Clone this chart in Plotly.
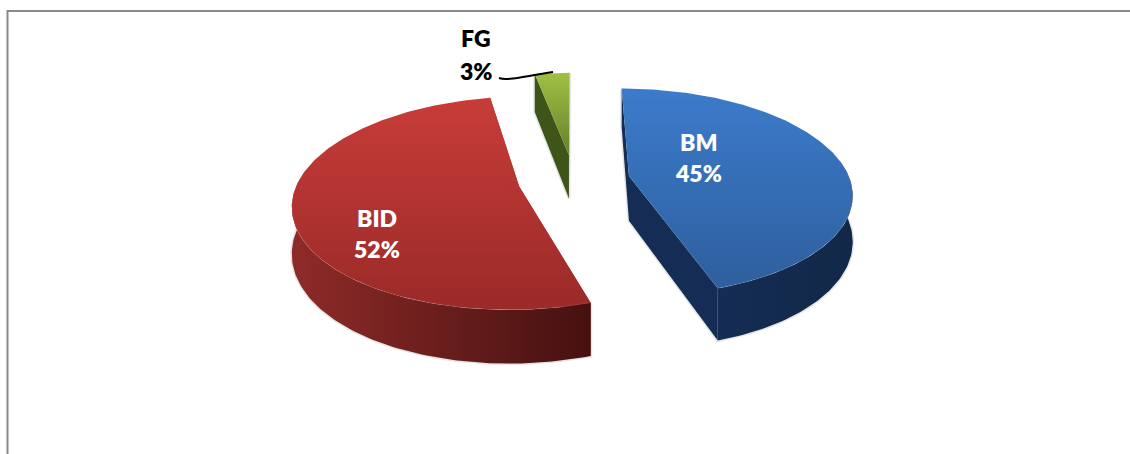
import numpy as np
import plotly.graph_objects as go

# Chart data
CATEGORIES = ["BM", "BID", "FG"]
SHARES = [45, 52, 3]
PERCENT_LABELS = ["45%", "52%", "3%"]

# Colours per slice: top face gradient (upper, lower), side face gradient (left, right)
TOP_COLORS = {"BM": ("#3c7bcb", "#2e5f9e"), "BID": ("#c83c39", "#9a2a28"), "FG": ("#a0c043", "#64802a")}
SIDE_COLORS = {"BM": ("#152d54", "#122848"), "BID": ("#8e2b28", "#451110"), "FG": ("#3f5419", "#374b15")}
LABEL_POS = {"BM": (698, 142, 173), "BID": (377, 218, 249), "FG": (476, 38, 71)}
LABEL_COLORS = {"BM": "white", "BID": "white", "FG": "black"}

# Projection of the tilted disc onto the page
CX, CY = 574, 180
RADIUS = 221
EXPLODE = 56
TILT = 0.462
PERSPECTIVE = 0.154
THICKNESS = 45


def project(theta, r, mid, z=0.0):
    X = EXPLODE * np.sin(mid) + r * np.sin(theta)
    Y = EXPLODE * np.cos(mid) + r * np.cos(theta)
    s = 1 / (1 + PERSPECTIVE * Y / RADIUS)
    return CX + s * X, CY - s * TILT * Y + s * z * THICKNESS


def polygon(xs, ys, c0, c1, kind):
    # Plotly's vertical gradient runs from the lowest y value, which sits at the
    # bottom of the page here, so the stops are given lower colour first.
    stops = [[0, c1], [1, c0]] if kind == "vertical" else [[0, c0], [1, c1]]
    return go.Scatter(
        x=list(xs) + [xs[0]], y=list(ys) + [ys[0]], mode="lines", fill="toself",
        line=dict(width=0), hoverinfo="skip", showlegend=False,
        fillgradient=dict(type=kind, colorscale=stops),
    )


def shadow(xs, ys):
    return go.Scatter(
        x=xs, y=ys, mode="lines",
        line=dict(width=3, color="rgba(70,70,70,0.14)"), hoverinfo="skip", showlegend=False,
    )


fig = go.Figure()
total = sum(SHARES)
start = 0.0
for name, share in zip(CATEGORIES, SHARES):
    span = 2 * np.pi * share / total
    a0, a1 = start, start + span
    start = a1
    mid = (a0 + a1) / 2
    arc = np.linspace(a0, a1, 160)

    ax, ay = project(0.0, 0.0, mid)
    bx, by = project(0.0, 0.0, mid, 1.0)
    tx, ty = project(arc, RADIUS, mid)
    lx, ly = project(arc, RADIUS, mid, 1.0)
    front = np.cos(arc) < 0.15

    # Drop shadow follows the lower outline of the slab
    outline_x = [tx[0], *lx, tx[-1], lx[-1], bx, lx[0]]
    outline_y = [ty[0], *ly, ty[-1], ly[-1], by, ly[0]]
    fig.add_trace(shadow(outline_x, outline_y))

    side = SIDE_COLORS[name]
    for i in (0, -1):
        fig.add_trace(polygon([ax, tx[i], lx[i], bx], [ay, ty[i], ly[i], by], side[0], side[0], "vertical"))

    # Outer wall exists only where the rim faces the viewer
    if front.any():
        wall_x = np.r_[tx[front], lx[front][::-1]].tolist()
        wall_y = np.r_[ty[front], ly[front][::-1]].tolist()
        fig.add_trace(polygon(wall_x, wall_y, side[0], side[1], "horizontal"))

    top = TOP_COLORS[name]
    fig.add_trace(polygon(np.r_[ax, tx].tolist(), np.r_[ay, ty].tolist(), top[0], top[1], "vertical"))
    if front.any():
        # Soft bevel along the near rim
        fig.add_trace(go.Scatter(
            x=tx[front], y=ty[front], mode="lines",
            line=dict(width=1, color="rgba(255,215,205,0.12)"), hoverinfo="skip", showlegend=False,
        ))

# Slice labels: category above, share below
for name, pct in zip(CATEGORIES, PERCENT_LABELS):
    x, y0, y1 = LABEL_POS[name]
    for text, y in ((name, y0), (pct, y1)):
        fig.add_annotation(
            x=x, y=y, text=text, showarrow=False,
            xanchor="center", yanchor="middle",
            font=dict(family="Lato, Carlito, sans-serif", size=23, weight=800, color=LABEL_COLORS[name]),
        )

fig.update_layout(
    width=1130, height=454,
    margin=dict(l=0, r=0, t=0, b=0),
    paper_bgcolor="white", plot_bgcolor="white", showlegend=False,
    xaxis=dict(range=[0, 1130], visible=False, fixedrange=True),
    yaxis=dict(range=[454, 0], visible=False, fixedrange=True),
    shapes=[
        # Chart frame (top and left rules)
        dict(type="line", x0=7, x1=1130, y0=11, y1=11, line=dict(color="#8a8a8a", width=2)),
        dict(type="line", x0=7.5, x1=7.5, y0=10, y1=454, line=dict(color="#8a8a8a", width=2)),
        # FG leader line
        dict(type="path", path="M 499 78 C 507 81, 520 77, 553 72", line=dict(color="black", width=2)),
    ],
)

fig.write_html("out.html", config={"displayModeBar": False})
